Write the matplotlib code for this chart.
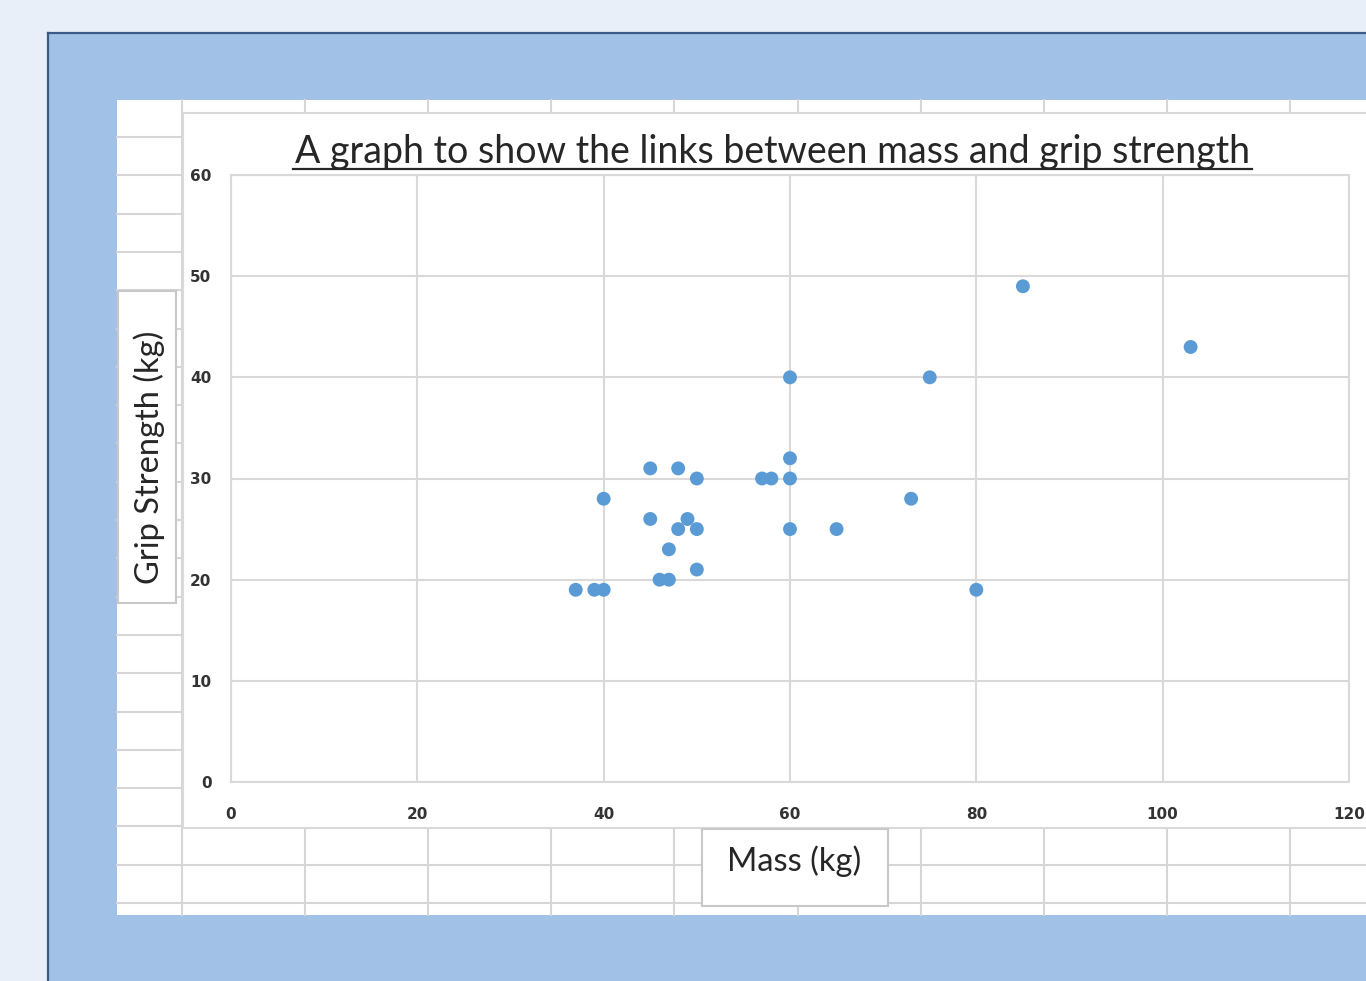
import matplotlib
matplotlib.use("Agg")
import matplotlib.pyplot as plt
from matplotlib.patches import Rectangle
import numpy as np

# ---- data ----
mass = [37, 39, 40, 40, 45, 45, 48, 50, 49, 48, 50, 47, 50, 46, 47,
        57, 58, 60, 60, 60, 60, 65, 73, 75, 80, 85, 103]
grip = [19, 19, 19, 28, 31, 26, 31, 30, 26, 25, 25, 23, 21, 20, 20,
        30, 30, 30, 32, 40, 25, 25, 28, 40, 19, 49, 43]
x_ticks = [0, 20, 40, 60, 80, 100, 120]
y_ticks = [0, 10, 20, 30, 40, 50, 60]
title = "A graph to show the links between mass and grip strength"
x_title = "Mass (kg)"
y_title = "Grip Strength (kg)"

W, H = 1366, 981
fig = plt.figure(figsize=(W / 100, H / 100), dpi=100)
fig.patch.set_facecolor("#E9EFF8")

# background layer in pixel coordinates
bg = fig.add_axes([0, 0, 1, 1], zorder=0)
bg.set_xlim(0, W)
bg.set_ylim(H, 0)
bg.axis("off")

GRID = "#D6D6D6"
# blue window area
bg.add_patch(Rectangle((48, 33), W, H, facecolor="#A2C1E6", edgecolor="none"))
bg.plot([48, 48], [33, H], color="#3B5A86", lw=1.6)
bg.plot([48, W], [33, 33], color="#3B5A86", lw=1.6)
# white spreadsheet
bg.add_patch(Rectangle((117, 100), W - 117, 815, facecolor="white", edgecolor="none"))
for xv in np.arange(182, W, 123.1):
    bg.plot([xv, xv], [100, 915], color=GRID, lw=1.5)
for yv in np.arange(137, 915, 38.3):
    bg.plot([117, W], [yv, yv], color=GRID, lw=1.5)

# chart area
bg.add_patch(Rectangle((183, 113), 1300, 715, facecolor="white",
                       edgecolor="#D9D9D9", lw=1.5, zorder=3))

# axis-title text boxes
bg.add_patch(Rectangle((118, 291), 58, 312, facecolor="white",
                       edgecolor="#C8C8C8", lw=1.5, zorder=3))
bg.add_patch(Rectangle((702, 829), 186, 77, facecolor="white",
                       edgecolor="#C8C8C8", lw=1.5, zorder=3))

FONT = ["Lato", "DejaVu Sans"]
bg.text(149, 457, y_title, rotation=90, ha="center", va="center",
        fontsize=23.5, family=FONT, color="#262626", zorder=4)
bg.text(794, 861, x_title, ha="center", va="center",
        fontsize=23.5, family=FONT, color="#262626", zorder=4)
t = bg.text(773, 163, title, ha="center", va="baseline",
            fontsize=27, family=FONT, color="#262626", zorder=4)
bg.plot([293, 1252], [169, 169], color="#262626", lw=1.6, zorder=4)

# data axes
L, R, T, B = 231, 1349, 175, 782
ax = fig.add_axes([L / W, 1 - B / H, (R - L) / W, (B - T) / H], zorder=1)
ax.set_facecolor("white")
ax.scatter(mass, grip, s=100, color="#5B9BD5", edgecolors="none", zorder=3)
ax.set_xlim(0, 120)
ax.set_ylim(0, 60)
ax.set_xticks(x_ticks)
ax.set_yticks(y_ticks)
ax.grid(True, color="#D9D9D9", lw=1.5, zorder=0)
ax.set_axisbelow(True)
for s in ax.spines.values():
    s.set_color("#D9D9D9")
    s.set_linewidth(1.5)
ax.tick_params(length=0, labelsize=11, labelcolor="#333333", pad=0)
ax.tick_params(axis="x", pad=18)
ax.tick_params(axis="y", pad=14)
for lab in ax.get_xticklabels() + ax.get_yticklabels():
    lab.set_fontweight("bold")
    lab.set_family("DejaVu Sans")

fig.savefig("out.png", dpi=100, facecolor=fig.get_facecolor())
